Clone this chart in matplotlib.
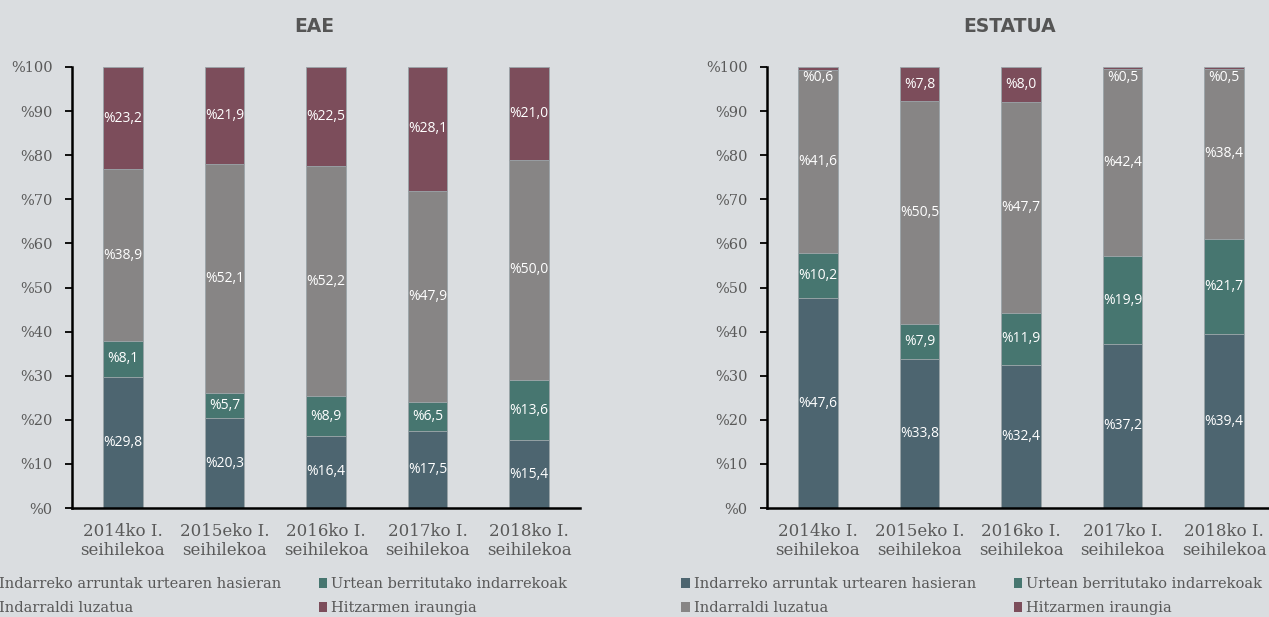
import matplotlib
matplotlib.use("Agg")
import matplotlib.pyplot as plt
from matplotlib.patches import Patch
import numpy as np

categories = ["2014ko I.\nseihilekoa", "2015eko I.\nseihilekoa", "2016ko I.\nseihilekoa",
              "2017ko I.\nseihilekoa", "2018ko I.\nseihilekoa"]
series_names = ["Indarreko arruntak urtearen hasieran", "Urtean berritutako indarrekoak",
                "Indarraldi luzatua", "Hitzarmen iraungia"]

eae_arruntak = [29.8, 20.3, 16.4, 17.5, 15.4]
eae_berritutako = [8.1, 5.7, 8.9, 6.5, 13.6]
eae_luzatua = [38.9, 52.1, 52.2, 47.9, 50.0]
eae_iraungia = [23.2, 21.9, 22.5, 28.1, 21.0]

est_arruntak = [47.6, 33.8, 32.4, 37.2, 39.4]
est_berritutako = [10.2, 7.9, 11.9, 19.9, 21.7]
est_luzatua = [41.6, 50.5, 47.7, 42.4, 38.4]
est_iraungia = [0.6, 7.8, 8.0, 0.5, 0.5]

yticks = [0, 10, 20, 30, 40, 50, 60, 70, 80, 90, 100]
ytick_labels = ["%" + str(v) for v in yticks]

colors = ["#4d6570", "#477670", "#878585", "#7c4d5b"]
bg = "#dadde0"
txt = "#595959"

W, H = 1269, 617
fig = plt.figure(figsize=(W / 100, H / 100), dpi=100, facecolor=bg)

serif = ["DejaVu Serif"]
sans = ["Open Sans", "DejaVu Sans"]


def fmt(v):
    return "%" + f"{v:.1f}".replace(".", ",")


def panel(left_px, data, title, title_x):
    ax = fig.add_axes([left_px / W, 1 - 508 / H, 508 / W, 441 / H])
    ax.set_facecolor(bg)
    x = np.arange(len(categories))
    bottom = np.zeros(len(categories))
    for s, vals in enumerate(data):
        vals = np.array(vals)
        ax.bar(x, vals, 0.39, bottom=bottom, color=colors[s], edgecolor="#9aa4a8",
               linewidth=0.6, zorder=2)
        for i, v in enumerate(vals):
            cy = bottom[i] + v / 2
            if v < 2:
                ax.annotate(fmt(v), (x[i], bottom[i]), xytext=(0, -6),
                            textcoords="offset points", ha="center", va="center",
                            color="white", fontsize=10, family=sans, zorder=3)
            else:
                ax.text(x[i], cy, fmt(v), ha="center", va="center", color="white",
                        fontsize=10, family=sans, zorder=3)
        bottom = bottom + vals
    ax.set_xlim(-0.5, len(categories) - 0.5)
    ax.set_ylim(0, 100)
    ax.set_yticks(yticks)
    ax.set_yticklabels(ytick_labels, family=serif, fontsize=10.5, color=txt)
    ax.set_xticks(x)
    ax.set_xticklabels(categories, family=serif, fontsize=12, color=txt, linespacing=1.15)
    ax.tick_params(axis="x", length=0, pad=11)
    ax.tick_params(axis="y", length=5, width=1.3, color="black", pad=9, direction="out")
    for sp in ["top", "right"]:
        ax.spines[sp].set_visible(False)
    for sp in ["left", "bottom"]:
        ax.spines[sp].set_linewidth(1.8)
        ax.spines[sp].set_color("black")
    fig.text(title_x / W, 1 - 26 / H, title, ha="center", va="center", fontsize=13.5,
             fontweight="heavy", color="#555555", family=["DejaVu Sans"])
    handles = [Patch(facecolor=colors[i], edgecolor="none") for i in range(4)]
    order = [0, 2, 1, 3]
    leg = fig.legend([handles[i] for i in order], [series_names[i] for i in order],
                     ncol=2, loc="upper left",
                     bbox_to_anchor=((left_px - 99) / W, 1 - 564 / H),
                     frameon=False, handlelength=0.6, handleheight=0.6,
                     handletextpad=0.25, columnspacing=2.6, labelspacing=0.68,
                     prop={"family": serif, "size": 10.5})
    for t in leg.get_texts():
        t.set_color(txt)
    return ax


panel(72, [eae_arruntak, eae_berritutako, eae_luzatua, eae_iraungia], "EAE", 314)
panel(767, [est_arruntak, est_berritutako, est_luzatua, est_iraungia], "ESTATUA", 1010)

fig.savefig("out.png", dpi=100, facecolor=bg)
